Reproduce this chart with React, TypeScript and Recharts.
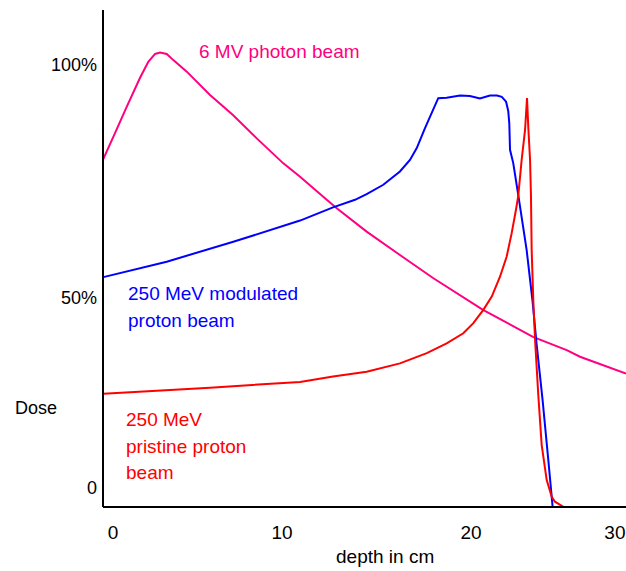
import { LineChart, Line, XAxis, YAxis } from 'recharts'

// depth in cm, relative dose (100 = the "100%" mark)
const photonDepth = [-0.57, 0.11, 0.77, 1.51, 1.97, 2.35, 2.63, 3.0, 3.37, 4.12, 5.42, 6.7, 8.03, 9.5, 10.45, 11.94, 12.5, 14.17, 16.03, 17.88, 20.67, 23.46, 25.35, 26.09, 28.66]
const photonDose = [78.5, 84.6, 90.6, 97.1, 100.7, 102.5, 102.8, 102.5, 101.1, 98.5, 93.2, 88.7, 83.4, 77.8, 74.7, 69.5, 67.6, 62.3, 57.0, 51.8, 44.6, 38.5, 35.5, 34.0, 30.2]

const modulatedDepth = [-0.54, 3.0, 6.72, 10.45, 12.29, 13.52, 14.17, 15.1, 16.03, 16.59, 16.97, 17.43, 17.8, 18.17, 18.64, 19.39, 19.94, 20.5, 21.06, 21.45, 21.72, 21.96, 22.08, 22.14, 22.18, 22.36, 22.64, 23.11, 23.44, 23.67, 24.0, 24.32, 24.51, 24.56]
const modulatedDose = [52.0, 55.5, 60.0, 64.8, 67.8, 69.5, 70.8, 72.9, 75.9, 78.5, 81.2, 85.7, 89.1, 92.5, 92.6, 93.1, 93.0, 92.4, 93.1, 93.1, 92.8, 91.7, 89.6, 86.8, 80.8, 77.8, 70.6, 58.1, 46.5, 36.7, 24.2, 10.6, 2.3, 0]

const pristineDepth = [-0.54, 5.42, 10.45, 12.29, 14.17, 16.03, 17.53, 18.64, 19.57, 20.13, 20.69, 21.16, 21.62, 21.99, 22.27, 22.51, 22.64, 22.83, 23.02, 23.13, 23.2, 23.3, 23.35, 23.39, 23.48, 23.58, 23.76, 23.95, 24.23, 24.51, 24.69, 25.14]
const pristineDose = [25.6, 27.0, 28.3, 29.5, 30.6, 32.5, 34.8, 37.0, 39.3, 41.6, 44.6, 47.6, 52.1, 56.6, 61.9, 67.2, 70.4, 78.5, 85.3, 92.5, 86.0, 78.5, 70.6, 58.1, 46.8, 37.8, 25.3, 14.0, 6.1, 2.3, 1.2, 0.1]

const xTicks = [0, 9.44, 20, 28.04]
const xTickLabels = ['0', '10', '20', '30']
const yTicks = [4.3, 47.3, 100]
const yTickLabels = ['0', '50%', '100%']

const toRows = (depth: number[], dose: number[]) => depth.map((d, i) => ({ depth: d, dose: dose[i] }))

const photon = toRows(photonDepth, photonDose)
const modulated = toRows(modulatedDepth, modulatedDose)
const pristine = toRows(pristineDepth, pristineDose)

const font = '"Liberation Sans", Arial, sans-serif'
const MAGENTA = '#ff0080'
const BLUE = '#0000ff'
const RED = '#ff0000'

export default function App() {
  return (
    <div style={{ position: 'relative', width: 626, height: 571, fontFamily: font }}>
      <style>{'body{margin:0}'}</style>
      <LineChart width={626} height={571} margin={{ top: 10, right: 0, bottom: 0, left: 0 }}>
        <XAxis
          type="number"
          dataKey="depth"
          domain={[-0.56, 28.66]}
          allowDataOverflow
          ticks={xTicks}
          interval={0}
          tickFormatter={(v: number) => xTickLabels[xTicks.indexOf(v)]}
          height={64}
          tickLine={false}
          tickSize={6}
          tickMargin={13}
          axisLine={{ stroke: '#000', strokeWidth: 2 }}
          tick={{ fontSize: 19, fill: '#000', fontFamily: font }}
        />
        <YAxis
          type="number"
          dataKey="dose"
          domain={[0, 112.44]}
          allowDataOverflow
          ticks={yTicks}
          interval={0}
          tickFormatter={(v: number) => yTickLabels[yTicks.indexOf(v)]}
          width={103}
          tickLine={false}
          tickSize={4}
          tickMargin={2}
          axisLine={{ stroke: '#000', strokeWidth: 2 }}
          tick={{ fontSize: 18, fill: '#000', fontFamily: font }}
        />
        <Line data={photon} dataKey="dose" type="linear" stroke={MAGENTA} strokeWidth={2} dot={false} isAnimationActive={false} />
        <Line data={modulated} dataKey="dose" type="linear" stroke={BLUE} strokeWidth={2} dot={false} isAnimationActive={false} />
        <Line data={pristine} dataKey="dose" type="linear" stroke={RED} strokeWidth={2} dot={false} isAnimationActive={false} />
      </LineChart>
      <svg width={626} height={571} style={{ position: 'absolute', left: 0, top: 0, pointerEvents: 'none' }} fontFamily={font}>
        <text x={199} y={58} fontSize={19} fill={MAGENTA}>6 MV photon beam</text>
        <text x={128} y={300} fontSize={19} fill={BLUE}>250 MeV modulated</text>
        <text x={128} y={327} fontSize={19} fill={BLUE}>proton beam</text>
        <text x={126} y={426} fontSize={19} fill={RED}>250 MeV</text>
        <text x={126} y={453} fontSize={19} fill={RED}>pristine proton</text>
        <text x={126} y={479} fontSize={19} fill={RED}>beam</text>
        <text x={15} y={414} fontSize={18} fill="#000">Dose</text>
        <text x={336} y={563} fontSize={19} fill="#000">depth in cm</text>
      </svg>
    </div>
  )
}
